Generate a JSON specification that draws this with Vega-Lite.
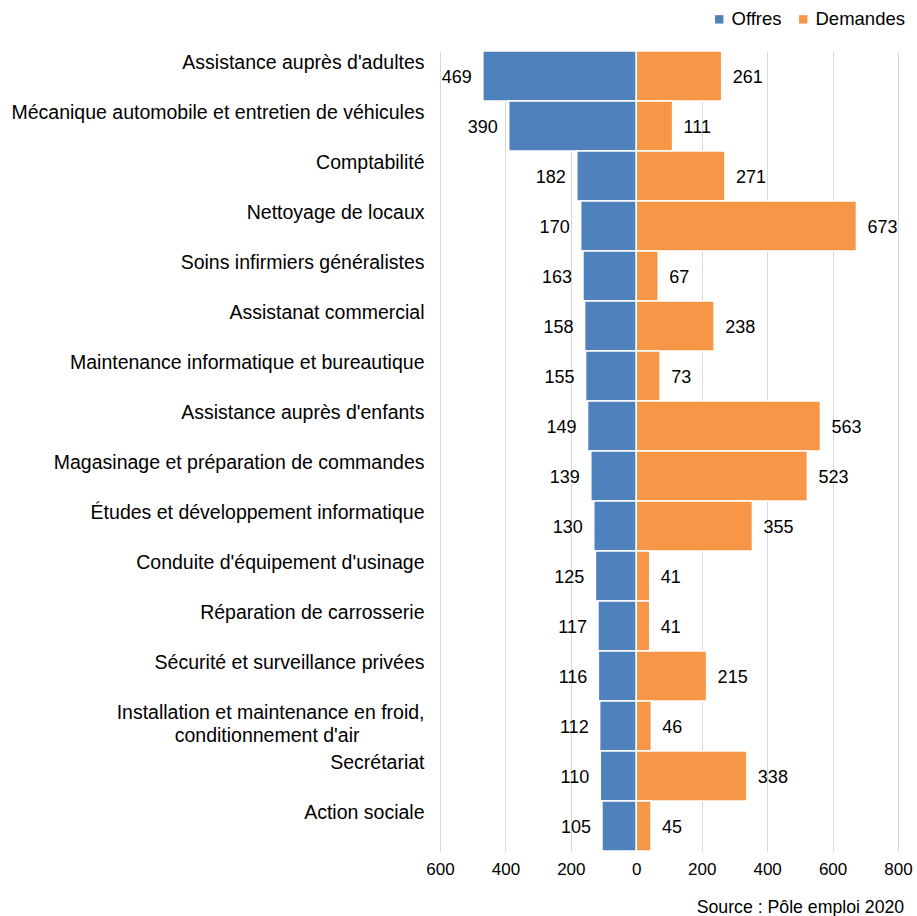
{
  "$schema": "https://vega.github.io/schema/vega-lite/v6.json",
  "width": 458,
  "height": 800,
  "autosize": "none",
  "padding": {"left": 440, "top": 51, "right": 19, "bottom": 65},
  "background": "white",
  "config": {
    "font": "Liberation Sans",
    "view": {"stroke": null}
  },
  "title": {
    "text": "Source : Pôle emploi 2020",
    "orient": "bottom",
    "anchor": "end",
    "fontSize": 17.7,
    "fontWeight": "normal",
    "color": "#000000",
    "font": "Liberation Sans",
    "offset": 22,
    "dx": -8
  },
  "data": {
    "values": [
      {"metier": "Assistance auprès d'adultes", "type": "Offres", "value": 469},
      {"metier": "Assistance auprès d'adultes", "type": "Demandes", "value": 261},
      {"metier": "Mécanique automobile et entretien de véhicules", "type": "Offres", "value": 390},
      {"metier": "Mécanique automobile et entretien de véhicules", "type": "Demandes", "value": 111},
      {"metier": "Comptabilité", "type": "Offres", "value": 182},
      {"metier": "Comptabilité", "type": "Demandes", "value": 271},
      {"metier": "Nettoyage de locaux", "type": "Offres", "value": 170},
      {"metier": "Nettoyage de locaux", "type": "Demandes", "value": 673},
      {"metier": "Soins infirmiers généralistes", "type": "Offres", "value": 163},
      {"metier": "Soins infirmiers généralistes", "type": "Demandes", "value": 67},
      {"metier": "Assistanat commercial", "type": "Offres", "value": 158},
      {"metier": "Assistanat commercial", "type": "Demandes", "value": 238},
      {"metier": "Maintenance informatique et bureautique", "type": "Offres", "value": 155},
      {"metier": "Maintenance informatique et bureautique", "type": "Demandes", "value": 73},
      {"metier": "Assistance auprès d'enfants", "type": "Offres", "value": 149},
      {"metier": "Assistance auprès d'enfants", "type": "Demandes", "value": 563},
      {"metier": "Magasinage et préparation de commandes", "type": "Offres", "value": 139},
      {"metier": "Magasinage et préparation de commandes", "type": "Demandes", "value": 523},
      {"metier": "Études et développement informatique", "type": "Offres", "value": 130},
      {"metier": "Études et développement informatique", "type": "Demandes", "value": 355},
      {"metier": "Conduite d'équipement d'usinage", "type": "Offres", "value": 125},
      {"metier": "Conduite d'équipement d'usinage", "type": "Demandes", "value": 41},
      {"metier": "Réparation de carrosserie", "type": "Offres", "value": 117},
      {"metier": "Réparation de carrosserie", "type": "Demandes", "value": 41},
      {"metier": "Sécurité et surveillance privées", "type": "Offres", "value": 116},
      {"metier": "Sécurité et surveillance privées", "type": "Demandes", "value": 215},
      {"metier": "Installation et maintenance en froid, conditionnement d'air", "type": "Offres", "value": 112},
      {"metier": "Installation et maintenance en froid, conditionnement d'air", "type": "Demandes", "value": 46},
      {"metier": "Secrétariat", "type": "Offres", "value": 110},
      {"metier": "Secrétariat", "type": "Demandes", "value": 338},
      {"metier": "Action sociale", "type": "Offres", "value": 105},
      {"metier": "Action sociale", "type": "Demandes", "value": 45}
    ]
  },
  "transform": [
    {"calculate": "datum.type === 'Offres' ? -datum.value : datum.value", "as": "signed"}
  ],
  "encoding": {
    "y": {
      "field": "metier",
      "type": "nominal",
      "sort": null,
      "scale": {"paddingInner": 0, "paddingOuter": 0},
      "axis": {
        "title": null,
        "domain": false,
        "ticks": false,
        "labelFontSize": 19.5,
        "labelColor": "#000000",
        "labelAlign": "right",
        "labelBaseline": "top",
        "labelOffset": -22,
        "labelPadding": 16,
        "labelLimit": 0,
        "labelLineHeight": 23,
        "labelExpr": "indexof(datum.label, 'froid, ') >= 0 ? split(replace(datum.label, 'froid, ', 'froid,|') + '\u00a0\u00a0\u00a0\u00a0\u00a0\u00a0\u00a0\u00a0\u00a0\u00a0\u00a0\u00a0\u200b', '|') : datum.label"
      }
    },
    "x": {
      "field": "signed",
      "type": "quantitative",
      "scale": {"domain": [-600, 800], "nice": false, "zero": false},
      "axis": {
        "title": null,
        "values": [-600, -400, -200, 0, 200, 400, 600, 800],
        "labelExpr": "abs(datum.value)",
        "domain": false,
        "ticks": false,
        "grid": true,
        "gridColor": "#d9d9d9",
        "gridWidth": 1,
        "labelFontSize": 17,
        "labelColor": "#000000",
        "labelPadding": 10,
        "labelFlush": false
      }
    }
  },
  "layer": [
    {
      "mark": {"type": "bar", "stroke": "white", "strokeWidth": 1.5},
      "encoding": {
        "color": {
          "field": "type",
          "type": "nominal",
          "scale": {"domain": ["Offres", "Demandes"], "range": ["#4F81BD", "#F79646"]},
          "legend": {
            "title": null,
            "orient": "none",
            "legendX": 270,
            "legendY": -41,
            "direction": "horizontal",
            "symbolType": "square",
            "symbolSize": 70,
            "symbolStrokeWidth": 0,
            "labelFontSize": 18.5,
            "labelColor": "#000000",
            "labelOffset": 3,
            "columnPadding": 12
          }
        }
      }
    },
    {
      "transform": [{"filter": "datum.type === 'Offres'"}],
      "mark": {"type": "text", "align": "right", "baseline": "middle", "dx": -11, "dy": 2, "fontSize": 18, "color": "#000000"},
      "encoding": {"text": {"field": "value", "type": "quantitative"}}
    },
    {
      "transform": [{"filter": "datum.type === 'Demandes'"}],
      "mark": {"type": "text", "align": "left", "baseline": "middle", "dx": 11, "dy": 2, "fontSize": 18, "color": "#000000"},
      "encoding": {"text": {"field": "value", "type": "quantitative"}}
    }
  ]
}
